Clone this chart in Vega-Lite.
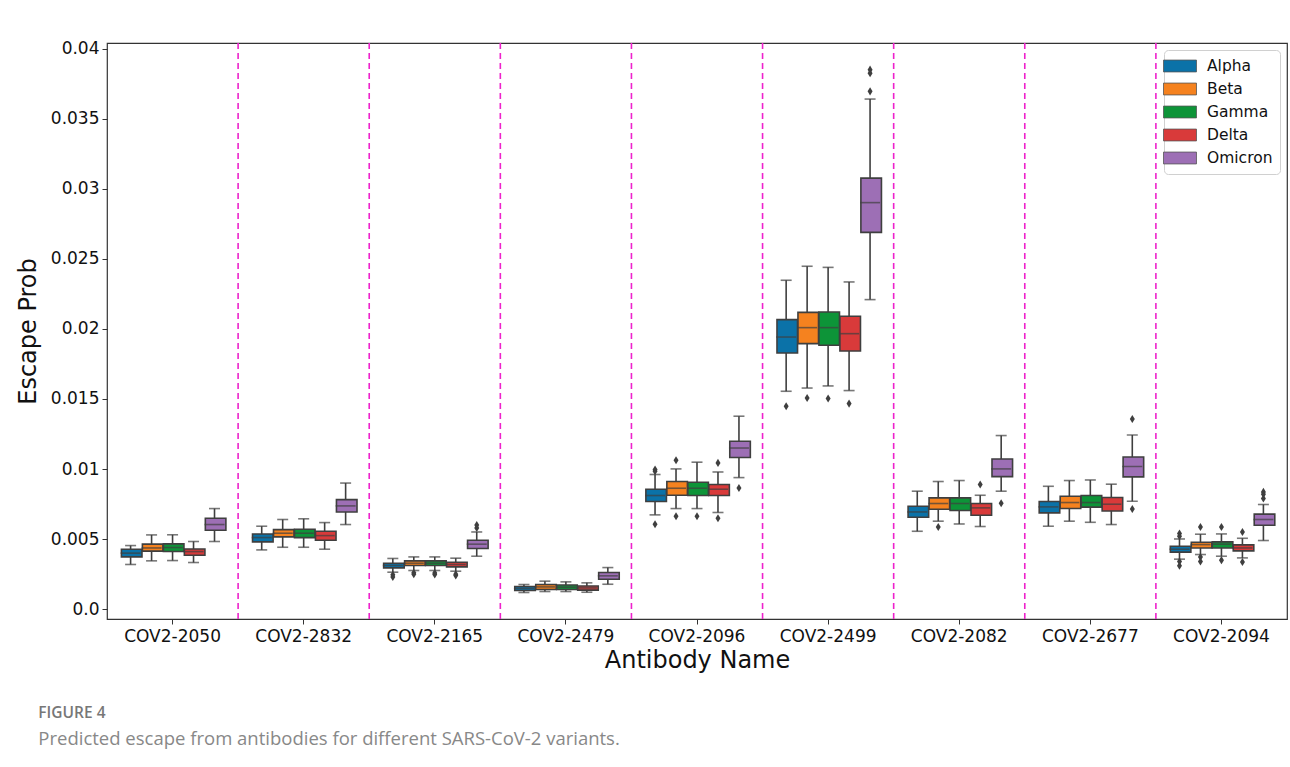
{
  "$schema": "https://vega.github.io/schema/vega-lite/v6.json",
  "width": 1180,
  "height": 576,
  "autosize": {"type": "none"},
  "padding": {"left": 107, "top": 43, "right": 3, "bottom": 148},
  "background": "white",
  "config": {
    "view": {"stroke": "#333333", "strokeWidth": 1.2},
    "font": "DejaVu Sans",
    "axis": {"grid": false, "domain": false, "labelFont": "DejaVu Sans", "titleFont": "DejaVu Sans", "labelColor": "#111", "titleColor": "#111", "tickColor": "#333", "tickSize": 5, "tickWidth": 1, "labelFontSize": 17, "titleFontSize": 24, "titleFontWeight": "normal"}
  },
  "title": {
    "text": "FIGURE 4",
    "subtitle": "Predicted escape from antibodies for different SARS-CoV-2 variants.",
    "orient": "bottom",
    "anchor": "start",
    "dx": 22,
    "offset": 34,
    "font": "Open Sans",
    "fontSize": 15.5,
    "fontWeight": 600,
    "color": "#777777",
    "subtitleFont": "Open Sans",
    "subtitleFontSize": 18.5,
    "subtitleColor": "#888888",
    "subtitlePadding": 8
  },
  "datasets": {
    "stats": [
      {"antibody": "COV2-2050", "variant": "Alpha", "lo": 0.00319, "q1": 0.00373, "med": 0.0040, "q3": 0.00428, "hi": 0.00454},
      {"antibody": "COV2-2050", "variant": "Beta", "lo": 0.00345, "q1": 0.00414, "med": 0.00437, "q3": 0.00464, "hi": 0.0053},
      {"antibody": "COV2-2050", "variant": "Gamma", "lo": 0.00347, "q1": 0.00412, "med": 0.0044, "q3": 0.00466, "hi": 0.00531},
      {"antibody": "COV2-2050", "variant": "Delta", "lo": 0.00333, "q1": 0.00385, "med": 0.00411, "q3": 0.0043, "hi": 0.00483},
      {"antibody": "COV2-2050", "variant": "Omicron", "lo": 0.00483, "q1": 0.00563, "med": 0.00604, "q3": 0.00649, "hi": 0.00718},
      {"antibody": "COV2-2832", "variant": "Alpha", "lo": 0.00423, "q1": 0.0048, "med": 0.00511, "q3": 0.00537, "hi": 0.00592},
      {"antibody": "COV2-2832", "variant": "Beta", "lo": 0.00442, "q1": 0.00516, "med": 0.00542, "q3": 0.00568, "hi": 0.0064},
      {"antibody": "COV2-2832", "variant": "Gamma", "lo": 0.00442, "q1": 0.00511, "med": 0.00542, "q3": 0.0057, "hi": 0.00645},
      {"antibody": "COV2-2832", "variant": "Delta", "lo": 0.00428, "q1": 0.00492, "med": 0.00525, "q3": 0.00556, "hi": 0.00618},
      {"antibody": "COV2-2832", "variant": "Omicron", "lo": 0.00604, "q1": 0.00694, "med": 0.00737, "q3": 0.00782, "hi": 0.009},
      {"antibody": "COV2-2165", "variant": "Alpha", "lo": 0.00264, "q1": 0.00295, "med": 0.00312, "q3": 0.00328, "hi": 0.00362},
      {"antibody": "COV2-2165", "variant": "Beta", "lo": 0.00276, "q1": 0.00312, "med": 0.00328, "q3": 0.00345, "hi": 0.00373},
      {"antibody": "COV2-2165", "variant": "Gamma", "lo": 0.00276, "q1": 0.00312, "med": 0.00328, "q3": 0.00345, "hi": 0.00373},
      {"antibody": "COV2-2165", "variant": "Delta", "lo": 0.00271, "q1": 0.00302, "med": 0.00319, "q3": 0.00335, "hi": 0.00364},
      {"antibody": "COV2-2165", "variant": "Omicron", "lo": 0.00378, "q1": 0.00433, "med": 0.00464, "q3": 0.00492, "hi": 0.00551},
      {"antibody": "COV2-2479", "variant": "Alpha", "lo": 0.00119, "q1": 0.00133, "med": 0.00148, "q3": 0.00162, "hi": 0.00176},
      {"antibody": "COV2-2479", "variant": "Beta", "lo": 0.00126, "q1": 0.0014, "med": 0.00159, "q3": 0.00176, "hi": 0.002},
      {"antibody": "COV2-2479", "variant": "Gamma", "lo": 0.00126, "q1": 0.0014, "med": 0.00157, "q3": 0.00173, "hi": 0.00195},
      {"antibody": "COV2-2479", "variant": "Delta", "lo": 0.00121, "q1": 0.00136, "med": 0.00152, "q3": 0.00166, "hi": 0.00188},
      {"antibody": "COV2-2479", "variant": "Omicron", "lo": 0.00178, "q1": 0.00214, "med": 0.00238, "q3": 0.00262, "hi": 0.00297},
      {"antibody": "COV2-2096", "variant": "Alpha", "lo": 0.00673, "q1": 0.00768, "med": 0.00811, "q3": 0.00856, "hi": 0.00961},
      {"antibody": "COV2-2096", "variant": "Beta", "lo": 0.00718, "q1": 0.00813, "med": 0.00863, "q3": 0.00911, "hi": 0.01001},
      {"antibody": "COV2-2096", "variant": "Gamma", "lo": 0.00718, "q1": 0.00811, "med": 0.00863, "q3": 0.00906, "hi": 0.01049},
      {"antibody": "COV2-2096", "variant": "Delta", "lo": 0.0069, "q1": 0.00811, "med": 0.00856, "q3": 0.0089, "hi": 0.00979},
      {"antibody": "COV2-2096", "variant": "Omicron", "lo": 0.00939, "q1": 0.01082, "med": 0.0115, "q3": 0.01198, "hi": 0.01377},
      {"antibody": "COV2-2499", "variant": "Alpha", "lo": 0.01555, "q1": 0.01828, "med": 0.01942, "q3": 0.02066, "hi": 0.02347},
      {"antibody": "COV2-2499", "variant": "Beta", "lo": 0.01578, "q1": 0.01895, "med": 0.02009, "q3": 0.02118, "hi": 0.02447},
      {"antibody": "COV2-2499", "variant": "Gamma", "lo": 0.01593, "q1": 0.01883, "med": 0.02009, "q3": 0.02121, "hi": 0.02439},
      {"antibody": "COV2-2499", "variant": "Delta", "lo": 0.0156, "q1": 0.01842, "med": 0.01966, "q3": 0.0209, "hi": 0.02335},
      {"antibody": "COV2-2499", "variant": "Omicron", "lo": 0.02209, "q1": 0.02689, "med": 0.02901, "q3": 0.03076, "hi": 0.0364},
      {"antibody": "COV2-2082", "variant": "Alpha", "lo": 0.00556, "q1": 0.00656, "med": 0.00694, "q3": 0.00735, "hi": 0.00842},
      {"antibody": "COV2-2082", "variant": "Beta", "lo": 0.00628, "q1": 0.00713, "med": 0.00754, "q3": 0.00794, "hi": 0.00911},
      {"antibody": "COV2-2082", "variant": "Gamma", "lo": 0.00608, "q1": 0.00704, "med": 0.00754, "q3": 0.00794, "hi": 0.00918},
      {"antibody": "COV2-2082", "variant": "Delta", "lo": 0.0059, "q1": 0.0067, "med": 0.00723, "q3": 0.00754, "hi": 0.00813},
      {"antibody": "COV2-2082", "variant": "Omicron", "lo": 0.00842, "q1": 0.00946, "med": 0.01001, "q3": 0.01072, "hi": 0.01239},
      {"antibody": "COV2-2677", "variant": "Alpha", "lo": 0.00592, "q1": 0.00687, "med": 0.0073, "q3": 0.00768, "hi": 0.00877},
      {"antibody": "COV2-2677", "variant": "Beta", "lo": 0.00628, "q1": 0.00718, "med": 0.00761, "q3": 0.00806, "hi": 0.00918},
      {"antibody": "COV2-2677", "variant": "Gamma", "lo": 0.0062, "q1": 0.00728, "med": 0.00761, "q3": 0.00811, "hi": 0.00922},
      {"antibody": "COV2-2677", "variant": "Delta", "lo": 0.00604, "q1": 0.00701, "med": 0.00749, "q3": 0.00797, "hi": 0.00892},
      {"antibody": "COV2-2677", "variant": "Omicron", "lo": 0.0077, "q1": 0.00944, "med": 0.01018, "q3": 0.01086, "hi": 0.01243},
      {"antibody": "COV2-2094", "variant": "Alpha", "lo": 0.00357, "q1": 0.00407, "med": 0.00428, "q3": 0.00449, "hi": 0.00501},
      {"antibody": "COV2-2094", "variant": "Beta", "lo": 0.0039, "q1": 0.00437, "med": 0.00461, "q3": 0.00478, "hi": 0.00535},
      {"antibody": "COV2-2094", "variant": "Gamma", "lo": 0.00378, "q1": 0.00437, "med": 0.00464, "q3": 0.0048, "hi": 0.00537},
      {"antibody": "COV2-2094", "variant": "Delta", "lo": 0.00366, "q1": 0.00416, "med": 0.00437, "q3": 0.00459, "hi": 0.00506},
      {"antibody": "COV2-2094", "variant": "Omicron", "lo": 0.0049, "q1": 0.00599, "med": 0.0064, "q3": 0.00678, "hi": 0.00747}
    ],
    "outliers": [
      {"antibody": "COV2-2165", "variant": "Alpha", "value": 0.00245},
      {"antibody": "COV2-2165", "variant": "Alpha", "value": 0.0023},
      {"antibody": "COV2-2165", "variant": "Beta", "value": 0.0026},
      {"antibody": "COV2-2165", "variant": "Beta", "value": 0.0025},
      {"antibody": "COV2-2165", "variant": "Gamma", "value": 0.00259},
      {"antibody": "COV2-2165", "variant": "Gamma", "value": 0.00248},
      {"antibody": "COV2-2165", "variant": "Delta", "value": 0.0025},
      {"antibody": "COV2-2165", "variant": "Delta", "value": 0.0024},
      {"antibody": "COV2-2165", "variant": "Omicron", "value": 0.006},
      {"antibody": "COV2-2165", "variant": "Omicron", "value": 0.0058},
      {"antibody": "COV2-2096", "variant": "Alpha", "value": 0.00996},
      {"antibody": "COV2-2096", "variant": "Alpha", "value": 0.00985},
      {"antibody": "COV2-2096", "variant": "Alpha", "value": 0.00606},
      {"antibody": "COV2-2096", "variant": "Beta", "value": 0.01063},
      {"antibody": "COV2-2096", "variant": "Beta", "value": 0.00663},
      {"antibody": "COV2-2096", "variant": "Gamma", "value": 0.00663},
      {"antibody": "COV2-2096", "variant": "Delta", "value": 0.01044},
      {"antibody": "COV2-2096", "variant": "Delta", "value": 0.00649},
      {"antibody": "COV2-2096", "variant": "Omicron", "value": 0.00865},
      {"antibody": "COV2-2499", "variant": "Alpha", "value": 0.01448},
      {"antibody": "COV2-2499", "variant": "Beta", "value": 0.01507},
      {"antibody": "COV2-2499", "variant": "Gamma", "value": 0.01503},
      {"antibody": "COV2-2499", "variant": "Delta", "value": 0.01467},
      {"antibody": "COV2-2499", "variant": "Omicron", "value": 0.03695},
      {"antibody": "COV2-2499", "variant": "Omicron", "value": 0.0385},
      {"antibody": "COV2-2499", "variant": "Omicron", "value": 0.03825},
      {"antibody": "COV2-2082", "variant": "Beta", "value": 0.00587},
      {"antibody": "COV2-2082", "variant": "Delta", "value": 0.0089},
      {"antibody": "COV2-2082", "variant": "Omicron", "value": 0.00756},
      {"antibody": "COV2-2677", "variant": "Omicron", "value": 0.01357},
      {"antibody": "COV2-2677", "variant": "Omicron", "value": 0.00715},
      {"antibody": "COV2-2094", "variant": "Alpha", "value": 0.0054},
      {"antibody": "COV2-2094", "variant": "Alpha", "value": 0.0052},
      {"antibody": "COV2-2094", "variant": "Alpha", "value": 0.0034},
      {"antibody": "COV2-2094", "variant": "Alpha", "value": 0.0031},
      {"antibody": "COV2-2094", "variant": "Beta", "value": 0.00587},
      {"antibody": "COV2-2094", "variant": "Beta", "value": 0.00373},
      {"antibody": "COV2-2094", "variant": "Beta", "value": 0.0034},
      {"antibody": "COV2-2094", "variant": "Gamma", "value": 0.00587},
      {"antibody": "COV2-2094", "variant": "Gamma", "value": 0.0035},
      {"antibody": "COV2-2094", "variant": "Delta", "value": 0.00551},
      {"antibody": "COV2-2094", "variant": "Delta", "value": 0.00337},
      {"antibody": "COV2-2094", "variant": "Omicron", "value": 0.00837},
      {"antibody": "COV2-2094", "variant": "Omicron", "value": 0.0082},
      {"antibody": "COV2-2094", "variant": "Omicron", "value": 0.0079}
    ],
    "separators": [
      {"antibody": "COV2-2050"}, {"antibody": "COV2-2832"}, {"antibody": "COV2-2165"}, {"antibody": "COV2-2479"},
      {"antibody": "COV2-2096"}, {"antibody": "COV2-2499"}, {"antibody": "COV2-2082"}, {"antibody": "COV2-2677"}
    ]
  },
  "encoding": {
    "x": {
      "field": "antibody", "type": "nominal", "title": "Antibody Name",
      "scale": {"domain": ["COV2-2050", "COV2-2832", "COV2-2165", "COV2-2479", "COV2-2096", "COV2-2499", "COV2-2082", "COV2-2677", "COV2-2094"], "paddingInner": 0, "paddingOuter": 0},
      "axis": {"labelAngle": 0, "labelPadding": 4, "titlePadding": 4}
    }
  },
  "layer": [
    {
      "data": {"name": "separators"},
      "mark": {"type": "rule", "color": "#ee22cc", "strokeWidth": 1.6, "strokeDash": [6, 4]},
      "encoding": {
        "x": {"field": "antibody", "type": "nominal", "bandPosition": 1}
      }
    },
    {
      "data": {"name": "stats"},
      "encoding": {
        "xOffset": {"field": "variant", "type": "nominal", "scale": {"domain": ["Alpha", "Beta", "Gamma", "Delta", "Omicron"], "paddingInner": 0, "paddingOuter": 0.625}}
      },
      "layer": [
        {
          "mark": {"type": "rule", "color": "#3f3f3f", "strokeWidth": 1.6},
          "encoding": {
            "y": {"field": "lo", "type": "quantitative", "title": "Escape Prob",
              "scale": {"domain": [-0.0007, 0.0404], "nice": false, "zero": false},
              "axis": {"values": [0, 0.005, 0.01, 0.015, 0.02, 0.025, 0.03, 0.035, 0.04], "labelExpr": "datum.value == 0 ? '0.0' : format(datum.value, '~g')", "labelPadding": 3, "titlePadding": 10}},
            "y2": {"field": "hi"}
          }
        },
        {
          "mark": {"type": "tick", "color": "#3f3f3f", "thickness": 1.6, "size": 11},
          "encoding": {"y": {"field": "lo", "type": "quantitative"}}
        },
        {
          "mark": {"type": "tick", "color": "#3f3f3f", "thickness": 1.6, "size": 11},
          "encoding": {"y": {"field": "hi", "type": "quantitative"}}
        },
        {
          "mark": {"type": "bar", "stroke": "#3f3f3f", "strokeWidth": 1.6, "width": {"band": 0.98}},
          "encoding": {
            "y": {"field": "q1", "type": "quantitative"},
            "y2": {"field": "q3"},
            "fill": {
              "field": "variant", "type": "nominal",
              "scale": {"domain": ["Alpha", "Beta", "Gamma", "Delta", "Omicron"], "range": ["#0b72a8", "#f5821f", "#0d9438", "#d93a3a", "#9d6fb5"]},
              "legend": {
                "title": null, "orient": "top-right", "offset": 7,
                "symbolType": "M-2,-0.72H2V0.72H-2Z", "symbolSize": 272,
                "symbolStrokeColor": "#555", "symbolStrokeWidth": 0.8, "symbolOpacity": 1,
                "labelFont": "DejaVu Sans", "labelFontSize": 15.5, "labelColor": "#111",
                "rowPadding": 5, "padding": 7, "strokeColor": "#d0d0d0", "fillColor": "white", "cornerRadius": 4, "labelOffset": 18
              }
            }
          }
        },
        {
          "mark": {"type": "tick", "color": "#3f3f3f", "thickness": 1.6, "size": 20},
          "encoding": {"y": {"field": "med", "type": "quantitative"}}
        }
      ]
    },
    {
      "data": {"name": "outliers"},
      "mark": {"type": "point", "shape": "M0,-1L0.62,0L0,1L-0.62,0Z", "filled": true, "color": "#3f3f3f", "opacity": 1, "size": 65},
      "encoding": {
        "xOffset": {"field": "variant", "type": "nominal", "scale": {"domain": ["Alpha", "Beta", "Gamma", "Delta", "Omicron"], "paddingInner": 0, "paddingOuter": 0.625}},
        "y": {"field": "value", "type": "quantitative"}
      }
    }
  ]
}
